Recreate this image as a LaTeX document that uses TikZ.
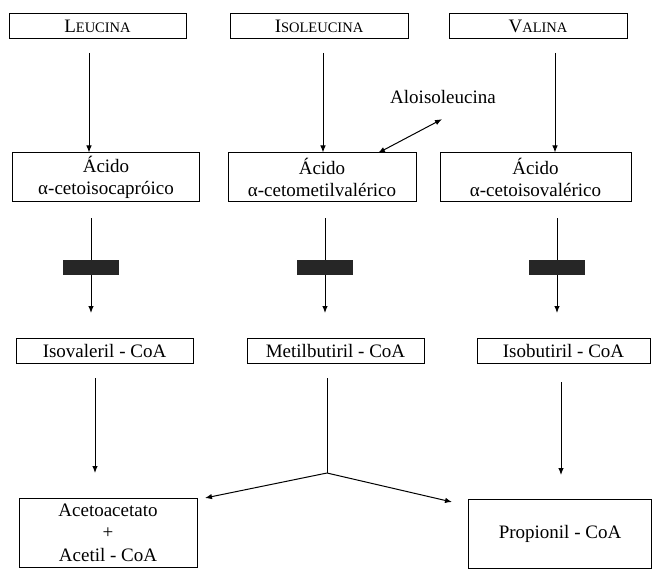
\documentclass[tikz,border=0pt]{standalone}
\usepackage{fontspec}
\setmainfont{Liberation Serif}
\usetikzlibrary{arrows.meta}
\newcommand{\fakesc}[2]{#1{\fontsize{14.5}{14.5}\selectfont #2}}
\begin{document}
\begin{tikzpicture}[x=1pt, y=-1pt, every node/.style={draw, line width=1pt, inner sep=0pt, align=center, font=\fontsize{19}{22.5}\selectfont}]
\useasboundingbox (0,0) rectangle (652,569);
\tikzset{row/.style={minimum height=25pt}}
\node[row, minimum width=177pt] (l) at (97.5,26) {\fakesc{L}{EUCINA}};
\node[row, minimum width=178pt] (i) at (319,26) {\fakesc{I}{SOLEUCINA}};
\node[row, minimum width=178pt] (v) at (538,26) {\fakesc{V}{ALINA}};

\tikzset{row/.style={minimum height=49pt}}
\node[row, minimum width=187pt] (ll) at (106,177.5) {Ácido\\α-cetoisocapróico};
\node[row, minimum width=188pt] (ii) at (322,177.5) {Ácido\\α-cetometilvalérico};
\node[row, minimum width=191pt] (vv) at (535.5,177.5) {Ácido\\α-cetoisovalérico};

\tikzset{row/.style={minimum height=25pt}}
\node[row, minimum width=177pt] (lll) at (104.5,350.5) {Isovaleril - CoA};
\node[row, minimum width=177pt] (iii) at (335.5,350.5) {Metilbutiril - CoA};
\node[row, minimum width=173pt] (vvv) at (563.5,350.5) {Isobutiril - CoA};

\tikzset{row/.style={minimum height=69pt}}
\node[row, minimum width=178pt] (ac) at (108,532.5) {Acetoacetato\\+\\Acetil - CoA};
\node[row, minimum width=183pt] (pr) at (560,533.5) {Propionil - CoA};

\node[draw=none] (al) at (443,97) {Aloisoleucina};

\tikzset{every node/.style={}}
\tikzset{mystyle/.style={-{Latex[length=7pt,width=5.5pt]}, line width=1pt}}
% leucina -> acido -> coa
\coordinate (l1) at (89,53);
\coordinate (l2) at (91,218);
\coordinate (l3) at (91,313);
\coordinate (l4) at (95,378);
\coordinate (l5) at (95,473);
\path (l1) edge [mystyle] (ll.north -| l1);
\path (l2) edge [mystyle] (l3);
\path (l4) edge [mystyle] (l5);
% isoleucina
\coordinate (i1) at (323,53);
\coordinate (i2) at (325,218);
\coordinate (i3) at (325,313);
\coordinate (i4) at (327,378);
\coordinate (i5) at (327,473);
\coordinate (a1) at (205,498);
\coordinate (a2) at (452,502);
\path (i1) edge [mystyle] (ii.north -| i1);
\path (i2) edge [mystyle] (i3);
\draw[line width=1pt] (i4) -- (i5);
\path (i5) edge [mystyle] (a1);
\path (i5) edge [mystyle] (a2);
% valina
\coordinate (v1) at (555,53);
\coordinate (v2) at (557,218);
\coordinate (v3) at (557,313);
\coordinate (v4) at (561,382);
\coordinate (v5) at (561,475);
\path (v1) edge [mystyle] (vv.north -| v1);
\path (v2) edge [mystyle] (v3);
\path (v4) edge [mystyle] (v5);

\tikzset{mystyle/.style={{Latex[length=7pt,width=5.5pt]}-{Latex[length=7pt,width=5.5pt]}, line width=1pt}}
\coordinate (al1) at (378,153);
\path (al1) edge [mystyle] ([shift={(-1,15)}]al.south);

% bloqueio
\tikzset{every node/.style={fill=black!85, minimum width=56pt, minimum height=15pt}}
\node (bl) at (91,267.5) {};
\node (bi) at (325,267.5) {};
\node (bv) at (557,267.5) {};
\end{tikzpicture}
\end{document}
